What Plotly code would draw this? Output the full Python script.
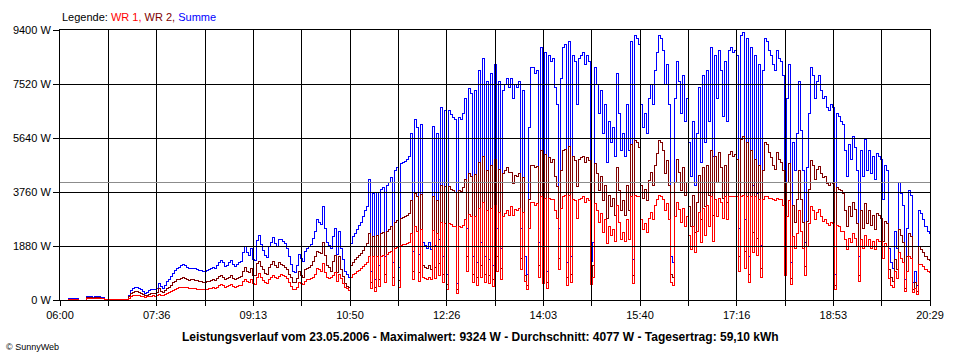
import pandas as pd
import plotly.graph_objects as go

# ---------------- data ----------------
START = "2006-05-23 06:00"
END = "2006-05-23 20:29"
STEP = "2min"

# WR 1 (red), W, every 2 minutes from 06:00
WR1 = [
    0, 0, 0, 0, 15, 15, 15, 15, 15, 0, 0, 0, 0, 40, 40,
    45, 40, 50, 40, 45, 40, 35, 10, 10, 10, 10, 10, 10, 10, 10,
    10, 10, 10, 10, 60, 110, 140, 150, 150, 140, 130, 110, 100, 110, 120,
    130, 140, 130, 150, 190, 170, 160, 200, 230, 260, 300, 330, 370, 400, 420,
    440, 450, 440, 420, 400, 400, 400, 390, 380, 380, 380, 370, 370, 380, 390,
    410, 420, 400, 450, 500, 530, 500, 440, 460, 500, 530, 480, 440, 470, 500,
    520, 640, 730, 640, 610, 700, 560, 540, 800, 930, 770, 680, 600, 580, 720,
    780, 860, 780, 740, 820, 880, 860, 830, 760, 600, 480, 380, 360, 450, 600,
    590, 550, 650, 700, 720, 740, 800, 900, 1100, 1050, 1000, 1260, 950, 800, 760,
    800, 850, 950, 650, 900, 750, 580, 440, 400, 320, 780, 880, 930, 980, 1040,
    1080, 1160, 1240, 1300, 1500, 400, 1500, 280, 1500, 480, 1530, 1550, 600, 1600, 1650,
    1700, 520, 1800, 1840, 450, 1910, 1920, 1920, 1950, 2000, 2320, 700, 2550, 2400, 650,
    2440, 800, 760, 720, 800, 700, 2410, 760, 2320, 840, 2700, 600, 2650, 360, 2650,
    2620, 2550, 2550, 240, 2550, 2520, 2600, 2800, 1000, 2980, 2900, 600, 2920, 520, 3200,
    800, 3400, 600, 3100, 560, 3200, 480, 3300, 1000, 3050, 720, 2900, 3000, 3100, 2950,
    3250, 2950, 3150, 3100, 3200, 1050, 3050, 630, 360, 2500, 3400, 3400, 3300, 3350, 800,
    3600, 560, 3550, 400, 3550, 3500, 3500, 3100, 2850, 1050, 3200, 3600, 3650, 520, 3650,
    600, 3500, 3450, 2850, 3500, 3550, 3600, 3400, 3550, 3450, 550, 800, 3350, 3100, 2700,
    3000, 2350, 2800, 1950, 2550, 2250, 2450, 2050, 3300, 2700, 2100, 2350, 2050, 2800, 2100,
    3600, 560, 3650, 3600, 3600, 2800, 2450, 2650, 2350, 2850, 3050, 2800, 3300, 3500, 3650,
    3600, 3500, 3100, 3350, 2800, 600, 520, 2900, 3400, 3150, 2700, 3200, 2550, 2900, 2250,
    1750, 2550, 1650, 2400, 3050, 2000, 3200, 2250, 3300, 2550, 3600, 2050, 3500, 2900, 3550,
    3400, 2850, 3600, 2800, 3620, 3620, 3600, 3620, 3600, 1000, 3620, 3624, 1100, 3620, 600,
    3600, 1650, 3600, 1550, 3500, 800, 3500, 3620, 3600, 3550, 3550, 3500, 3450, 3550, 3500,
    3500, 3300, 850, 2900, 3450, 550, 2200, 1800, 2300, 3100, 2400, 1800, 850, 1850, 2650,
    3250, 3100, 2800, 3050, 3150, 2900, 2750, 2800, 2650, 2600, 2700, 2650, 380, 2600, 2550,
    2400, 2400, 2100, 1750, 2150, 2000, 2300, 2150, 1850, 650, 2100, 1800, 2250, 1850, 2100,
    1800, 2050, 1750, 2100, 2050, 2050, 1450, 1950, 1850, 750, 500, 450, 1000, 750, 1650,
    1450, 1300, 300, 1000, 1500, 1450, 250, 400, 200, 1250, 1250, 1150, 1050, 980, 950,
]

# WR 2 (dark red), W
WR2 = [
    0, 0, 0, 0, 25, 25, 25, 25, 25, 0, 0, 0, 0, 70, 70,
    75, 60, 70, 70, 75, 60, 55, 10, 10, 10, 10, 10, 10, 10, 10,
    10, 10, 10, 10, 110, 230, 270, 290, 280, 260, 220, 180, 140, 160, 200,
    220, 210, 220, 250, 390, 310, 250, 320, 400, 440, 520, 600, 660, 700, 720,
    760, 770, 760, 700, 690, 700, 700, 690, 690, 660, 640, 620, 620, 640, 660,
    690, 700, 680, 750, 820, 860, 790, 720, 750, 800, 860, 760, 720, 760, 800,
    810, 1000, 1130, 1000, 950, 1100, 860, 850, 1260, 1330, 1160, 1060, 940, 900, 1130,
    1230, 1330, 1200, 1130, 1300, 1230, 1200, 1130, 1050, 900, 770, 620, 600, 750, 980,
    860, 800, 1050, 1100, 1130, 1190, 1350, 1500, 1700, 1650, 1620, 2000, 1550, 1200, 1140,
    1000, 1350, 1550, 950, 1500, 1050, 820, 560, 480, 450, 1200, 1320, 1400, 1470, 1560,
    1620, 1740, 1860, 1950, 2300, 600, 2200, 420, 2250, 720, 2300, 2350, 900, 2400, 2450,
    2550, 780, 2700, 2760, 690, 2850, 2880, 2900, 2950, 3000, 3480, 1000, 3720, 3600, 950,
    3660, 1200, 1140, 1080, 1200, 1050, 3620, 1140, 3480, 1260, 4000, 900, 3950, 540, 3950,
    3830, 3800, 3750, 350, 3800, 3780, 3900, 4200, 1500, 4400, 4300, 900, 4380, 780, 4800,
    1200, 5000, 900, 4500, 840, 4700, 720, 4900, 1500, 4550, 1080, 4400, 4500, 4600, 4450,
    4450, 4050, 4350, 4300, 4400, 1450, 4250, 870, 520, 3500, 4700, 4700, 4600, 4650, 1200,
    5200, 840, 5050, 600, 4950, 4800, 4900, 4300, 3950, 1450, 4500, 5200, 5250, 780, 5350,
    900, 5000, 4850, 3950, 4900, 4950, 5000, 4800, 4950, 4850, 800, 1200, 4750, 4400, 3800,
    4300, 3450, 4000, 2850, 3650, 3250, 3550, 2950, 4600, 3800, 3100, 3450, 2950, 4000, 3100,
    5400, 840, 5550, 5500, 5300, 4000, 3550, 3850, 3450, 4150, 4450, 4000, 4700, 5100, 5550,
    5500, 5200, 4400, 4850, 4000, 900, 780, 4100, 4900, 4450, 3800, 4600, 3650, 4100, 3250,
    2550, 3650, 2350, 3400, 4350, 2800, 4600, 3250, 4700, 3650, 5200, 2950, 5000, 4100, 5150,
    4600, 3550, 4700, 3400, 5080, 5180, 5000, 5080, 4900, 1500, 5580, 5700, 1700, 5480, 900,
    5200, 2350, 4900, 2150, 4700, 1100, 4500, 5480, 5400, 5150, 4950, 4700, 4550, 5150, 4900,
    4800, 4500, 1150, 4100, 4750, 750, 3300, 2700, 3500, 4500, 3500, 2700, 1150, 2750, 3850,
    4850, 4700, 4200, 4550, 4650, 4400, 4250, 4300, 4050, 4000, 4100, 4050, 500, 3900, 3850,
    3800, 3700, 3100, 2550, 3250, 2900, 3400, 3150, 2650, 850, 3100, 2500, 3350, 2650, 3100,
    2600, 2950, 2450, 3000, 2950, 2850, 2050, 2750, 2650, 1050, 800, 650, 1400, 1050, 2450,
    2250, 2000, 400, 1500, 2300, 2200, 350, 600, 300, 1850, 1750, 1650, 1500, 1420, 1350,
]

# Summe (blue), W
SUMME = [
    0, 0, 0, 0, 40, 40, 40, 40, 40, 0, 0, 0, 0, 110, 110,
    120, 100, 120, 110, 120, 100, 90, 20, 20, 20, 20, 20, 20, 20, 20,
    20, 20, 20, 20, 170, 340, 410, 440, 430, 400, 350, 290, 240, 270, 320,
    350, 350, 350, 400, 580, 480, 410, 520, 630, 700, 820, 930, 1030, 1100, 1140,
    1200, 1220, 1200, 1120, 1090, 1100, 1100, 1080, 1070, 1040, 1020, 990, 990, 1020, 1050,
    1100, 1120, 1080, 1200, 1320, 1390, 1290, 1160, 1210, 1300, 1390, 1240, 1160, 1230, 1300,
    1330, 1640, 1860, 1640, 1560, 1800, 1420, 1390, 2060, 2260, 1930, 1740, 1540, 1480, 1850,
    2010, 2190, 1980, 1870, 2120, 2100, 2050, 1950, 1800, 1500, 1250, 1000, 950, 1200, 1580,
    1450, 1350, 1700, 1800, 1850, 1930, 2150, 2400, 2800, 2700, 2620, 3260, 2500, 2000, 1900,
    1800, 2200, 2500, 1600, 2400, 1800, 1400, 1000, 880, 770, 1980, 2200, 2330, 2450, 2600,
    2700, 2900, 3100, 3250, 4180, 1000, 3700, 700, 3750, 1200, 3830, 3900, 1500, 4000, 4100,
    4250, 1300, 4500, 4600, 1140, 4760, 4800, 4820, 4900, 5000, 5800, 1700, 6270, 6000, 1600,
    6100, 2000, 1900, 1800, 2000, 1750, 6030, 1900, 5800, 2100, 6700, 1500, 6600, 900, 6600,
    6450, 6350, 6300, 590, 6350, 6300, 6500, 7000, 2500, 7380, 7200, 1500, 7300, 1300, 8000,
    2000, 8400, 1500, 7600, 1400, 7900, 1200, 8200, 2500, 7600, 1800, 7300, 7500, 7700, 7400,
    7700, 7000, 7500, 7400, 7600, 2500, 7300, 1500, 880, 6000, 8100, 8100, 7900, 8000, 2000,
    8800, 1400, 8600, 1000, 8500, 8300, 8400, 7400, 6800, 2500, 7700, 8800, 8900, 1300, 9000,
    1500, 8500, 8300, 6800, 8400, 8500, 8600, 8200, 8500, 8300, 1350, 2000, 8100, 7500, 6500,
    7300, 5800, 6800, 4800, 6200, 5500, 6000, 5000, 7900, 6500, 5200, 5800, 5000, 6800, 5200,
    9000, 1400, 9200, 9100, 8900, 6800, 6000, 6500, 5800, 7000, 7500, 6800, 8000, 8600, 9200,
    9100, 8700, 7500, 8200, 6800, 1500, 1300, 7000, 8300, 7600, 6500, 7800, 6200, 7000, 5500,
    4300, 6200, 4000, 5800, 7400, 4800, 7800, 5500, 8000, 6200, 8800, 5000, 8500, 7000, 8700,
    8000, 6400, 8300, 6200, 8700, 8800, 8600, 8700, 8500, 2500, 9200, 9324, 2800, 9100, 1500,
    8800, 4000, 8500, 3700, 8200, 1900, 8000, 9100, 9000, 8700, 8500, 8200, 8000, 8700, 8400,
    8300, 7800, 2000, 7000, 8200, 1300, 5500, 4500, 5800, 7600, 5900, 4500, 2000, 4600, 6500,
    8100, 7800, 7000, 7600, 7800, 7300, 7000, 7100, 6700, 6600, 6800, 6700, 880, 6500, 6400,
    6200, 6100, 5200, 4300, 5400, 4900, 5700, 5300, 4500, 1500, 5200, 4300, 5600, 4500, 5200,
    4400, 5000, 4200, 5100, 5000, 4900, 3500, 4700, 4500, 1800, 1300, 1100, 2400, 1800, 4100,
    3700, 3300, 700, 2500, 3800, 3650, 600, 1000, 500, 3100, 3000, 2800, 2550, 2400, 2300,
]

AVERAGE = 4077  # "Durchschnitt"
Y_TICKS = [0, 1880, 3760, 5640, 7520, 9400]
Y_LABELS = ["0 W", "1880 W", "3760 W", "5640 W", "7520 W", "9400 W"]
X_LABELS = ["06:00", "07:36", "09:13", "10:50", "12:26",
            "14:03", "15:40", "17:16", "18:53", "20:29"]
TITLE = ("Leistungsverlauf vom 23.05.2006 - Maximalwert: 9324 W - "
         "Durchschnitt: 4077 W - Tagesertrag: 59,10 kWh")

# ---------------- figure ----------------
times = pd.date_range(START, periods=len(WR1), freq=STEP)
t0, t1 = pd.Timestamp(START), pd.Timestamp(END)
n_div = 2 * (len(X_LABELS) - 1)
grid_x = [t0 + (t1 - t0) * k / n_div for k in range(n_div + 1)]
tick_text = [X_LABELS[k // 2] if k % 2 == 0 else "" for k in range(n_div + 1)]

FONT = "Liberation Sans, Arial, sans-serif"

fig = go.Figure()
for name, vals, col in [("Summe", SUMME, "#0000FF"),
                        ("WR 2", WR2, "#800000"),
                        ("WR 1", WR1, "#FF0000")]:
    fig.add_trace(go.Scatter(x=times, y=vals, mode="lines", name=name,
                             line=dict(color=col, width=1, shape="hv"),
                             hoverinfo="x+y+name"))

shapes = []
for gx in grid_x[1:-1]:
    shapes.append(dict(type="line", xref="x", yref="paper", x0=gx, x1=gx,
                       y0=0, y1=1, line=dict(color="black", width=1),
                       layer="above"))
for gy in Y_TICKS[1:-1]:
    shapes.append(dict(type="line", xref="paper", yref="y", x0=0, x1=1,
                       y0=gy, y1=gy, line=dict(color="black", width=1),
                       layer="above"))
shapes.append(dict(type="line", xref="paper", yref="y", x0=0, x1=1,
                   y0=AVERAGE, y1=AVERAGE,
                   line=dict(color="#8C8C8C", width=1), layer="above"))

legend_html = ("Legende: <span style='color:#FF0000'>WR 1,</span> "
               "<span style='color:#800000'>WR 2,</span> "
               "<span style='color:#0000FF'>Summe</span>")

fig.update_layout(
    width=960, height=360,
    margin=dict(l=60, r=30, t=30, b=60, pad=0),
    paper_bgcolor="white", plot_bgcolor="white",
    showlegend=False,
    font=dict(family=FONT, size=11, color="black"),
    shapes=shapes,
    annotations=[
        dict(text=legend_html, xref="paper", yref="paper", x=0, y=(300 - 17) / 270,
             xanchor="left", yanchor="middle", showarrow=False,
             font=dict(family=FONT, size=11, color="black")),
        dict(text="<b>" + TITLE + "</b>", xref="paper", yref="paper",
             x=(480 - 60) / 870, y=(300 - 337) / 270,
             xanchor="center", yanchor="middle", showarrow=False,
             font=dict(family=FONT, size=12, color="black")),
        dict(text="© SunnyWeb", xref="paper", yref="paper",
             x=(4 - 60) / 870, y=(300 - 347) / 270,
             xanchor="left", yanchor="middle", showarrow=False,
             font=dict(family=FONT, size=9, color="black")),
    ],
)
fig.update_xaxes(type="date", range=[t0, t1], tickmode="array",
                 tickvals=grid_x, ticktext=tick_text,
                 ticks="outside", ticklen=5, tickcolor="black", tickwidth=1,
                 showgrid=False, zeroline=False, showline=True, mirror=True,
                 linecolor="black", linewidth=1, layer="above traces",
                 tickfont=dict(family=FONT, size=11, color="black"))
fig.update_yaxes(range=[0, 9400], tickmode="array", tickvals=Y_TICKS,
                 ticktext=Y_LABELS, ticks="outside", ticklen=6,
                 tickcolor="black", tickwidth=1,
                 showgrid=False, zeroline=False, showline=True, mirror=True,
                 linecolor="black", linewidth=1, layer="above traces",
                 tickfont=dict(family=FONT, size=11, color="black"))

# page styling: no body margin, crisp (non-antialiased) lines like the original
PAGE_CSS = ("var s=document.createElement('style');"
            "s.innerHTML='body{margin:0;overflow:hidden}"
            " .scatterlayer path,.shapelayer path{shape-rendering:crispEdges}';"
            "document.head.appendChild(s);")

fig.write_html("out.html", post_script=PAGE_CSS,
               config={"displayModeBar": False})
